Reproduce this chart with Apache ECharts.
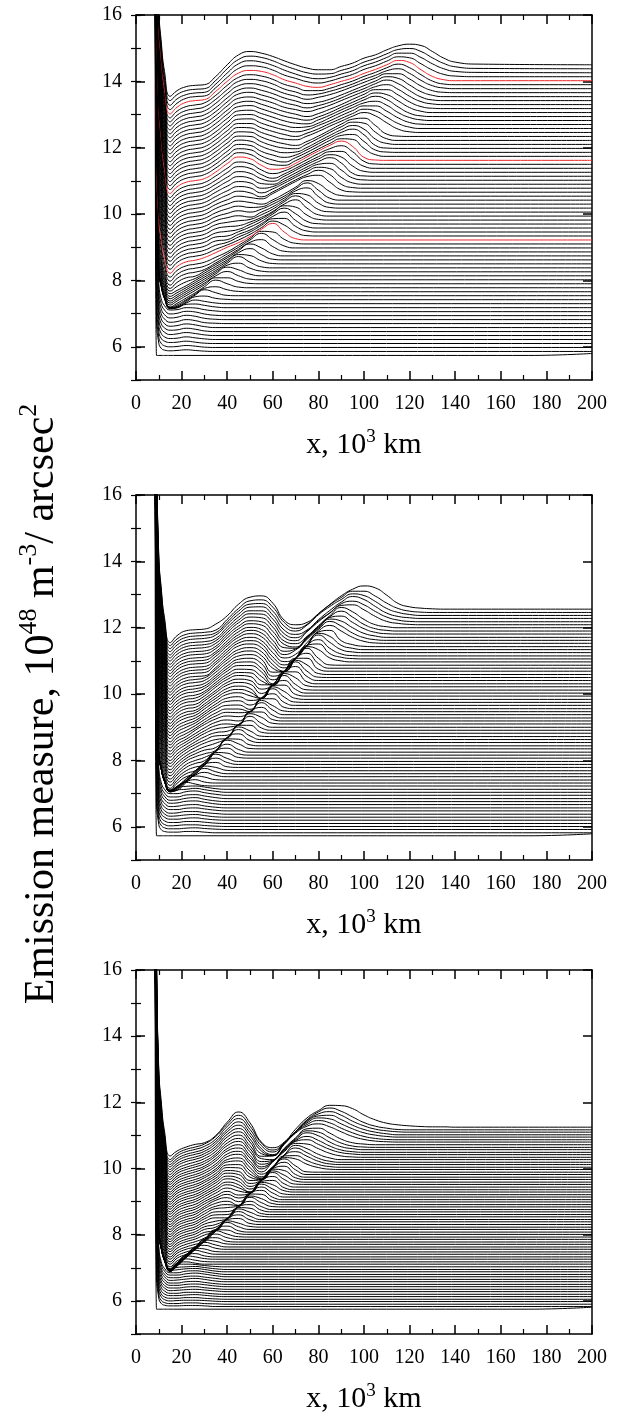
<!DOCTYPE html>
<html lang="en">
<head>
<meta charset="utf-8">
<title>Emission measure profiles</title>
<script src="https://cdn.jsdelivr.net/npm/echarts@6/dist/echarts.min.js"></script>
<style>
  html, body { margin: 0; padding: 0; background: #fff; }
  #chart { width: 619px; height: 1415px; }
</style>
</head>
<body>
<div id="chart"></div>
<script>
// x positions (10^3 km) where every curve is sampled
var xGrid = [9, 10, 11, 12.5, 15, 18, 22, 26, 30, 35, 40, 45, 50, 55, 60, 65, 70, 75, 80, 85, 90, 95, 100, 105, 110, 115, 120, 125, 130, 135, 140, 150];
// all curves start off-scale at the footpoint
var footX = 8.3, footY = 24;
var yTickLabels = [6, 8, 10, 12, 14, 16];
// the lowest curve of each panel turns up slightly near the right end
var bottomRiseX = 172;
var bottomEnd = [5.80, 5.79, 5.81];

// ---- panel 1: undisturbed level of each stacked curve, and deviation from it (0.01 units)
var levels1 = [5.74, 5.86, 5.98, 6.10, 6.22, 6.34, 6.46, 6.58, 6.70, 6.82, 6.94, 7.06, 7.18, 7.30, 7.42, 7.54, 7.66, 7.78, 7.90, 8.02,
  8.14, 8.26, 8.38, 8.50, 8.62, 8.74, 8.86, 8.98, 9.10, 9.22, 9.34, 9.46, 9.58, 9.70, 9.82, 9.94, 10.06, 10.18, 10.30, 10.42,
  10.54, 10.66, 10.78, 10.90, 11.02, 11.14, 11.26, 11.38, 11.50, 11.62, 11.74, 11.86, 11.98, 12.10, 12.22, 12.34, 12.46, 12.58, 12.70, 12.82,
  12.94, 13.06, 13.18, 13.30, 13.42, 13.54, 13.66, 13.78, 13.90, 14.02, 14.14, 14.26, 14.38, 14.50];
var red1 = [29, 49, 69];
var dev1 = [
  [0, 0, 0, 0, 0],
  [100, 25, 10, 4, 2, 3, 5, 3, 1],
  [112, 31, 13, 5, 2, 3, 6, 4, 1],
  [124, 37, 16, 7, 3, 4, 7, 4, 1],
  [136, 43, 19, 8, 3, 4, 8, 5, 2],
  [148, 49, 22, 10, 3, 5, 9, 6, 2],
  [160, 55, 25, 11, 4, 5, 10, 7, 2],
  [172, 61, 28, 12, 4, 6, 11, 8, 3],
  [184, 67, 31, 14, 4, 6, 12, 9, 3, 1],
  [196, 73, 34, 15, 5, 7, 13, 10, 4, 1],
  [208, 79, 37, 17, 5, 7, 13, 11, 5, 1],
  [220, 85, 40, 18, 5, 6, 12, 11, 6, 2],
  [237, 101, 65, 27, -3, -1, 10, 11, 7, 2],
  [226, 90, 54, 16, -14, -11, 2, 11, 7, 2],
  [217, 80, 44, 5, -25, -22, -7, 9, 11, 4, 1],
  [210, 71, 34, -5, -36, -32, -15, 2, 18, 9, 1],
  [199, 60, 23, -16, -47, -40, -24, -7, 10, 15, 6, 1],
  [188, 49, 12, -27, -58, -47, -31, -15, 3, 23, 12, 2],
  [188, 45, 7, -32, -64, -52, -36, -20, -3, 18, 18, 7, 1],
  [188, 42, 3, -38, -70, -58, -42, -26, -10, 12, 25, 12, 2],
  [194, 41, 1, -42, -76, -64, -48, -32, -16, 6, 26, 18, 5],
  [195, 39, -3, -46, -81, -70, -54, -38, -22, -1, 20, 26, 11, 2],
  [196, 36, -6, -51, -86, -75, -60, -44, -28, -8, 14, 34, 17, 3],
  [204, 37, -7, -53, -90, -80, -66, -50, -34, -14, 7, 28, 25, 9, 1],
  [212, 39, -7, -56, -94, -80, -66, -56, -40, -20, 0, 22, 34, 16, 2],
  [214, 37, -10, -59, -98, -80, -66, -61, -46, -26, -6, 16, 36, 24, 6],
  [224, 40, -8, -60, -100, -80, -66, -61, -53, -33, -13, 8, 29, 37, 16, 2],
  [242, 48, -3, -57, -100, -80, -66, -61, -55, -38, -18, 2, 24, 44, 25, 6],
  [254, 53, 0, -56, -100, -80, -66, -61, -55, -40, -24, -4, 17, 38, 36, 14, 2],
  [266, 59, 4, -54, -100, -80, -66, -61, -53, -38, -22, -8, 10, 32, 50, 24, 4],
  [284, 66, 9, -52, -100, -80, -66, -61, -55, -40, -27, -12, 5, 25, 45, 33, 11, 1],
  [296, 72, 12, -50, -100, -80, -66, -61, -55, -40, -31, -15, 0, 20, 40, 41, 17, 3],
  [314, 79, 17, -48, -100, -80, -66, -61, -55, -39, -35, -19, -6, 13, 35, 48, 23, 4],
  [326, 85, 21, -47, -100, -80, -66, -61, -55, -39, -36, -23, -9, 8, 30, 48, 31, 8, 1],
  [338, 90, 24, -45, -100, -80, -66, -61, -55, -39, -34, -28, -13, 3, 23, 43, 39, 15, 2],
  [356, 98, 29, -43, -100, -80, -66, -61, -55, -38, -32, -29, -18, -4, 14, 36, 49, 24, 4],
  [368, 103, 33, -42, -100, -80, -66, -61, -55, -38, -31, -26, -22, -8, 9, 31, 49, 32, 8, 1],
  [386, 111, 38, -39, -100, -80, -66, -61, -55, -38, -29, -23, -27, -12, 4, 24, 44, 40, 15, 2],
  [398, 116, 41, -38, -100, -80, -66, -61, -55, -38, -28, -20, -24, -15, 0, 18, 40, 49, 23, 3],
  [410, 121, 45, -36, -100, -80, -66, -61, -55, -38, -26, -18, -22, -20, -5, 12, 34, 52, 30, 6],
  [428, 129, 50, -34, -100, -80, -66, -61, -55, -37, -24, -15, -19, -24, -11, 7, 27, 47, 38, 14, 2],
  [440, 134, 53, -33, -100, -80, -66, -61, -55, -37, -23, -12, -16, -20, -4, 14, 32, 47, 51, 30, 7, 1],
  [458, 142, 58, -30, -100, -80, -66, -61, -55, -37, -21, -9, -14, -26, -11, 7, 25, 41, 54, 41, 12, 2],
  [470, 147, 62, -29, -100, -80, -66, -61, -55, -37, -20, -7, -11, -26, -14, 3, 21, 38, 51, 47, 21, 4],
  [482, 152, 65, -27, -100, -80, -66, -61, -55, -36, -18, -4, -8, -24, -19, -3, 15, 33, 48, 51, 31, 7, 1],
  [500, 160, 70, -25, -100, -80, -66, -61, -55, -36, -16, -1, -6, -22, -24, -8, 10, 28, 44, 56, 40, 9, 1],
  [500, 160, 70, -25, -100, -80, -66, -61, -55, -36, -15, 2, -3, -20, -27, -12, 6, 24, 40, 53, 46, 19, 3],
  [500, 160, 70, -25, -100, -80, -66, -61, -55, -36, -13, 5, 0, -19, -30, -17, 0, 18, 35, 50, 51, 28, 6],
  [500, 160, 70, -25, -100, -80, -66, -61, -55, -35, -12, 7, 2, -17, -28, -20, -4, 14, 32, 47, 56, 38, 9, 1],
  [500, 160, 70, -25, -100, -80, -66, -61, -55, -35, -10, 10, 5, -15, -27, -24, -9, 10, 28, 45, 58, 42, 9, 1],
  [500, 160, 70, -25, -100, -80, -66, -61, -55, -35, -10, 11, 6, -13, -25, -27, -13, 4, 22, 39, 53, 51, 24, 5],
  [500, 160, 70, -25, -100, -80, -66, -61, -55, -35, -9, 11, 8, -11, -23, -29, -16, 0, 18, 36, 51, 54, 33, 7, 1],
  [500, 160, 70, -25, -100, -80, -66, -61, -55, -35, -9, 12, 9, -9, -20, -27, -20, -4, 14, 32, 48, 58, 41, 9, 1],
  [500, 160, 70, -25, -100, -80, -66, -61, -55, -34, -8, 13, 10, -6, -18, -25, -23, -9, 9, 27, 44, 57, 46, 16, 3],
  [500, 160, 70, -25, -100, -80, -66, -61, -55, -34, -8, 13, 12, -4, -16, -23, -25, -11, 6, 24, 41, 55, 52, 25, 5],
  [500, 160, 70, -25, -100, -80, -66, -61, -55, -34, -8, 14, 13, -2, -14, -22, -27, -15, 1, 19, 37, 52, 55, 33, 7, 1],
  [500, 160, 70, -25, -100, -80, -66, -61, -55, -34, -7, 15, 14, 0, -11, -20, -22, -11, 3, 19, 34, 49, 60, 50, 29, 10, 2],
  [500, 160, 70, -25, -100, -80, -66, -61, -55, -34, -7, 15, 15, 2, -9, -18, -24, -14, -1, 15, 30, 45, 58, 53, 34, 15, 4],
  [500, 160, 70, -25, -100, -80, -66, -61, -55, -34, -6, 16, 17, 4, -7, -16, -22, -16, -3, 11, 27, 42, 56, 56, 40, 20, 6, 1],
  [500, 160, 70, -25, -100, -80, -66, -61, -55, -34, -6, 17, 18, 7, -5, -15, -21, -19, -8, 8, 24, 39, 53, 58, 46, 24, 9, 2],
  [500, 160, 70, -25, -100, -80, -66, -61, -55, -33, -6, 17, 19, 9, -2, -13, -20, -22, -10, 4, 20, 35, 50, 61, 51, 29, 10, 2],
  [500, 160, 70, -25, -100, -80, -66, -61, -55, -33, -5, 18, 21, 11, 0, -11, -18, -23, -13, 0, 16, 31, 46, 59, 54, 35, 15, 4],
  [500, 160, 70, -25, -100, -80, -66, -61, -55, -33, -5, 18, 22, 13, 2, -9, -17, -24, -15, -2, 12, 28, 43, 57, 57, 41, 20, 6, 1],
  [500, 160, 70, -25, -100, -80, -66, -61, -55, -33, -4, 19, 23, 15, 5, -8, -15, -21, -13, -2, 12, 26, 40, 54, 60, 46, 25, 9, 2],
  [500, 160, 70, -25, -100, -80, -66, -61, -55, -33, -4, 20, 25, 17, 7, -6, -14, -22, -15, -5, 8, 23, 36, 51, 62, 51, 30, 11, 2],
  [500, 160, 70, -25, -100, -80, -66, -61, -55, -33, -4, 20, 26, 19, 9, -4, -13, -21, -17, -8, 5, 19, 33, 47, 60, 55, 35, 15, 4],
  [500, 160, 70, -25, -100, -80, -66, -61, -55, -32, -3, 21, 27, 22, 11, -2, -11, -20, -14, -6, 5, 18, 31, 44, 57, 57, 41, 20, 6, 1],
  [500, 160, 70, -25, -100, -80, -66, -61, -55, -32, -3, 22, 28, 24, 14, -1, -10, -19, -16, -8, 2, 14, 28, 40, 54, 60, 46, 25, 9, 2],
  [500, 160, 70, -25, -100, -80, -66, -61, -55, -32, -2, 22, 30, 26, 16, 1, -8, -18, -18, -11, 0, 11, 25, 37, 51, 62, 51, 30, 11, 2],
  [500, 160, 70, -25, -100, -80, -65, -60, -57, -32, -2, 23, 31, 28, 18, 3, -7, -17, -20, -12, -2, 8, 22, 34, 48, 61, 55, 33, 13, 3],
  [501, 161, 71, -24, -99, -80, -65, -60, -58, -33, -2, 25, 33, 30, 20, 5, -5, -15, -19, -13, -3, 7, 22, 33, 47, 60, 57, 39, 20, 7, 2],
  [502, 162, 72, -23, -98, -79, -66, -61, -59, -34, -1, 27, 36, 32, 22, 8, -4, -14, -18, -14, -4, 6, 21, 32, 46, 59, 59, 46, 27, 12, 4, 1],
  [504, 164, 74, -21, -96, -78, -66, -62, -60, -35, 0, 28, 38, 34, 24, 10, -2, -12, -16, -15, -5, 5, 20, 31, 45, 58, 61, 52, 33, 16, 6, 1],
  [505, 165, 75, -20, -95, -78, -66, -62, -60, -35, 0, 30, 40, 35, 25, 12, 0, -10, -15, -15, -5, 5, 20, 30, 45, 57, 62, 58, 40, 20, 8, 2]
];

// ---- panel 2
var levels2 = [5.73, 5.82, 5.92, 6.01, 6.10, 6.20, 6.29, 6.38, 6.48, 6.57, 6.67, 6.76, 6.85, 6.95, 7.04, 7.13, 7.23, 7.32, 7.41, 7.51,
  7.60, 7.69, 7.79, 7.88, 7.97, 8.07, 8.16, 8.25, 8.35, 8.44, 8.54, 8.63, 8.72, 8.82, 8.91, 9.00, 9.10, 9.19, 9.28, 9.38,
  9.47, 9.56, 9.66, 9.75, 9.84, 9.94, 10.03, 10.12, 10.22, 10.31, 10.41, 10.50, 10.59, 10.69, 10.78, 10.87, 10.97, 11.06, 11.15, 11.25,
  11.34, 11.43, 11.53, 11.62, 11.71, 11.81, 11.90, 12.00, 12.09, 12.18, 12.28, 12.37, 12.46, 12.56];
var dev2 = [
  [0, 0, 0, 0, 0],
  [100, 25, 10, 4, 2, 2, 4, 4, 2],
  [110, 30, 13, 5, 2, 2, 4, 5, 3, 1],
  [120, 35, 15, 6, 2, 3, 5, 5, 3, 1],
  [130, 40, 18, 8, 3, 3, 6, 6, 4, 1],
  [140, 45, 20, 9, 3, 3, 6, 7, 4, 1],
  [150, 50, 23, 10, 3, 4, 7, 8, 5, 1],
  [160, 55, 25, 11, 3, 4, 8, 8, 5, 2],
  [170, 60, 28, 12, 4, 4, 8, 9, 6, 2],
  [180, 65, 30, 14, 4, 5, 9, 10, 6, 2],
  [190, 70, 33, 15, 4, 5, 10, 11, 7, 2],
  [200, 75, 35, 16, 4, 5, 10, 12, 7, 2],
  [210, 80, 38, 17, 5, 5, 11, 12, 8, 3],
  [220, 85, 40, 18, 5, 5, 11, 13, 8, 3],
  [247, 108, 71, 32, 1, 7, 9, 12, 8, 3],
  [239, 100, 63, 24, -7, 5, 9, 10, 7, 2],
  [230, 91, 54, 15, -16, -4, 11, 6, 1],
  [220, 81, 44, 5, -26, -12, 4, 10, 3],
  [212, 73, 36, -3, -34, -21, -4, 12, 9, 1],
  [211, 68, 30, -9, -41, -29, -12, 5, 13, 4],
  [192, 53, 16, -23, -54, -50, -26, -1, 16, 6],
  [184, 45, 8, -31, -62, -56, -32, -8, 14, 10, 1],
  [181, 38, 0, -39, -71, -63, -40, -15, 10, 15, 2],
  [173, 30, -8, -47, -79, -69, -45, -21, 4, 19, 6],
  [165, 22, -16, -55, -87, -75, -52, -28, -4, 22, 9],
  [156, 13, -25, -64, -96, -76, -56, -48, -19, 17, 15, 2],
  [158, 12, -27, -68, -100, -77, -56, -47, -31, 12, 21, 4],
  [170, 17, -24, -66, -100, -78, -56, -45, -38, 2, 24, 8],
  [182, 22, -20, -65, -100, -79, -56, -44, -36, -7, 26, 15, 1],
  [194, 27, -17, -63, -100, -80, -56, -44, -35, -16, 21, 20, 3],
  [206, 33, -13, -62, -100, -80, -56, -43, -34, -23, 16, 26, 6],
  [218, 38, -10, -60, -100, -80, -57, -43, -32, -24, 5, 30, 11],
  [224, 40, -8, -59, -100, -80, -58, -43, -31, -20, -4, 29, 17, 1],
  [236, 46, -5, -58, -100, -80, -59, -43, -30, -19, -15, 24, 24, 3],
  [248, 51, -1, -56, -100, -80, -59, -43, -30, -17, -15, 17, 29, 7],
  [260, 56, 2, -55, -100, -80, -61, -44, -29, -16, -12, 7, 33, 12],
  [272, 61, 5, -53, -100, -80, -62, -45, -29, -15, -10, -2, 31, 20, 2],
  [284, 66, 9, -52, -100, -80, -63, -46, -30, -14, -9, -12, 27, 27, 4],
  [296, 72, 12, -50, -100, -80, -64, -47, -30, -13, -6, -9, 20, 32, 8],
  [308, 77, 16, -49, -100, -80, -66, -47, -30, -13, -4, -6, 9, 36, 14],
  [314, 79, 17, -48, -100, -80, -66, -50, -32, -13, -2, -3, 0, 34, 18, 2],
  [326, 85, 21, -47, -100, -80, -66, -51, -33, -13, -1, -1, -9, 30, 30, 4],
  [338, 90, 24, -45, -100, -80, -66, -53, -34, -13, 0, 1, -12, 22, 35, 9],
  [350, 95, 28, -44, -100, -80, -66, -55, -36, -13, 3, 5, -8, 13, 41, 16, 1],
  [362, 100, 31, -42, -100, -80, -66, -56, -38, -14, 4, 8, -3, 3, 38, 24, 3],
  [374, 105, 34, -41, -100, -80, -66, -58, -39, -15, 5, 10, 1, -7, 32, 33, 5],
  [386, 111, 38, -39, -100, -80, -66, -59, -40, -16, 5, 11, 3, -16, 24, 38, 11],
  [392, 113, 39, -38, -100, -80, -66, -61, -42, -17, 5, 12, 5, -25, 15, 44, 17, 1],
  [404, 118, 43, -37, -100, -80, -66, -62, -43, -18, 5, 13, 8, -20, 5, 40, 27, 3],
  [416, 124, 46, -36, -100, -80, -66, -62, -45, -20, 4, 14, 10, -16, -3, 36, 36, 6],
  [428, 129, 50, -34, -100, -80, -66, -62, -47, -20, 3, 15, 12, -13, -13, 27, 42, 12],
  [440, 134, 53, -33, -100, -80, -66, -62, -48, -22, 2, 15, 14, -10, -23, 17, 47, 19, 1],
  [452, 139, 56, -31, -100, -80, -66, -62, -51, -24, 1, 16, 15, -6, -32, 8, 43, 29, 3],
  [464, 144, 60, -30, -100, -80, -66, -62, -52, -26, 0, 17, 17, -2, -38, -1, 39, 39, 6],
  [476, 150, 63, -28, -100, -80, -66, -62, -54, -28, -1, 18, 19, 0, -35, -11, 30, 45, 14],
  [482, 152, 65, -27, -100, -80, -66, -62, -55, -30, -2, 18, 21, 5, -33, -20, 20, 51, 21, 1],
  [494, 157, 68, -26, -100, -80, -66, -62, -56, -31, -3, 18, 22, 8, -31, -29, 11, 46, 37, 12, 3],
  [500, 160, 70, -25, -100, -80, -66, -62, -57, -32, -3, 19, 24, 10, -28, -38, 1, 41, 45, 16, 5, 1],
  [500, 160, 70, -25, -100, -80, -66, -62, -60, -35, -4, 19, 25, 13, -26, -46, -8, 32, 49, 23, 6, 1],
  [500, 160, 70, -25, -100, -80, -66, -62, -60, -35, -5, 20, 26, 15, -24, -46, -18, 22, 53, 31, 9, 2],
  [500, 160, 70, -25, -100, -80, -66, -62, -60, -37, -6, 20, 27, 17, -22, -46, -26, 13, 49, 40, 13, 4],
  [500, 160, 70, -25, -100, -80, -66, -62, -60, -38, -7, 19, 28, 18, -18, -45, -35, 4, 44, 49, 18, 6, 1],
  [500, 160, 70, -25, -100, -80, -66, -62, -60, -39, -8, 18, 29, 20, -15, -44, -33, 2, 37, 54, 37, 18, 6, 1],
  [500, 160, 70, -25, -100, -80, -66, -62, -60, -40, -10, 17, 30, 22, -12, -43, -29, 3, 33, 57, 43, 22, 8, 2],
  [500, 160, 70, -25, -100, -80, -66, -62, -60, -43, -11, 17, 30, 24, -9, -42, -35, -3, 27, 55, 49, 29, 12, 4],
  [500, 160, 70, -25, -100, -80, -66, -62, -60, -44, -12, 16, 31, 27, -5, -41, -43, -11, 20, 50, 54, 35, 16, 5, 1],
  [500, 160, 70, -25, -100, -80, -66, -62, -60, -46, -13, 15, 31, 28, -1, -40, -48, -18, 13, 43, 60, 42, 20, 7, 2],
  [500, 160, 70, -25, -100, -80, -66, -62, -60, -47, -15, 15, 32, 30, 2, -40, -48, -26, 6, 36, 61, 48, 25, 9, 3],
  [500, 160, 70, -25, -100, -80, -66, -62, -60, -48, -16, 14, 33, 32, 5, -38, -48, -21, 9, 35, 58, 60, 45, 25, 10, 4, 1],
  [500, 160, 70, -25, -100, -80, -66, -62, -60, -50, -17, 14, 33, 33, 8, -36, -48, -28, 3, 27, 54, 62, 51, 31, 14, 5, 1],
  [500, 160, 70, -25, -100, -80, -66, -62, -60, -50, -18, 13, 34, 35, 10, -35, -48, -35, -4, 24, 49, 66, 57, 36, 16, 6, 2],
  [500, 160, 70, -25, -100, -80, -66, -62, -60, -52, -20, 13, 34, 36, 13, -32, -47, -29, 2, 27, 48, 65, 60, 42, 21, 9, 3],
  [500, 160, 70, -25, -100, -80, -66, -62, -60, -53, -21, 12, 35, 38, 16, -30, -48, -36, -4, 23, 45, 64, 64, 49, 28, 12, 4, 1],
  [499, 159, 69, -26, -101, -80, -65, -62, -60, -45, -20, 15, 36, 40, 18, -33, -47, -40, -14, 14, 40, 60, 70, 64, 42, 17, 7, 3, 1]
];

// ---- panel 3
var levels3 = [5.75, 5.83, 5.90, 5.98, 6.05, 6.13, 6.20, 6.28, 6.35, 6.43, 6.50, 6.58, 6.65, 6.73, 6.80, 6.88, 6.95, 7.03, 7.11, 7.18,
  7.26, 7.33, 7.41, 7.48, 7.56, 7.63, 7.71, 7.78, 7.86, 7.93, 8.01, 8.08, 8.16, 8.23, 8.31, 8.39, 8.46, 8.54, 8.61, 8.69,
  8.76, 8.84, 8.91, 8.99, 9.06, 9.14, 9.21, 9.29, 9.36, 9.44, 9.52, 9.59, 9.67, 9.74, 9.82, 9.89, 9.97, 10.04, 10.12, 10.19,
  10.27, 10.34, 10.42, 10.49, 10.57, 10.64, 10.72, 10.80, 10.87, 10.95, 11.02, 11.10, 11.17, 11.25];
var dev3 = [
  [0, 0, 0, 0, 0],
  [100, 25, 10, 4, 2, 2, 3, 3, 2],
  [109, 30, 12, 5, 2, 2, 4, 4, 2, 1],
  [118, 34, 15, 6, 2, 3, 4, 4, 3, 1],
  [127, 39, 17, 7, 3, 3, 5, 5, 3, 1],
  [136, 43, 19, 8, 3, 3, 5, 6, 4, 1],
  [145, 48, 22, 10, 3, 3, 6, 6, 4, 1],
  [154, 52, 24, 11, 3, 4, 6, 7, 5, 2],
  [163, 57, 26, 12, 4, 4, 7, 8, 5, 2],
  [172, 61, 28, 13, 4, 4, 7, 8, 6, 2],
  [181, 66, 31, 14, 4, 4, 8, 9, 6, 2],
  [190, 70, 33, 15, 4, 5, 8, 10, 7, 2],
  [199, 75, 35, 16, 5, 5, 9, 10, 7, 3],
  [208, 79, 38, 17, 5, 5, 9, 11, 8, 3],
  [217, 84, 40, 18, 5, 5, 10, 11, 8, 3],
  [256, 113, 75, 36, 4, 6, 9, 10, 7, 2],
  [258, 112, 73, 32, 0, 6, 8, 9, 6, 2],
  [252, 106, 67, 26, -6, 8, 8, 7, 4, 1],
  [242, 96, 57, 16, -16, 3, 7, 3],
  [234, 88, 49, 8, -24, -3, 9, 5, 1],
  [225, 79, 40, -1, -33, -12, 10, 7, 2],
  [211, 68, 30, -9, -41, -20, 6, 10, 3],
  [202, 59, 21, -18, -50, -30, -1, 12, 6],
  [193, 50, 12, -27, -59, -39, -10, 11, 9, 1],
  [185, 42, 4, -35, -67, -48, -20, 7, 12, 3],
  [179, 36, -2, -41, -73, -56, -29, 0, 14, 6],
  [172, 29, -9, -48, -80, -65, -39, -10, 13, 9, 1],
  [166, 23, -15, -54, -86, -73, -46, -19, 9, 13, 2],
  [168, 22, -17, -58, -90, -72, -55, -28, 0, 16, 5],
  [180, 27, -14, -56, -90, -72, -60, -37, -9, 19, 9, 1],
  [186, 30, -12, -55, -90, -72, -60, -46, -18, 14, 13, 2],
  [198, 35, -8, -54, -90, -72, -60, -52, -27, 8, 18, 4],
  [204, 37, -7, -53, -90, -72, -60, -52, -36, -1, 21, 8],
  [216, 43, -3, -52, -90, -72, -60, -52, -45, -11, 19, 12, 2],
  [222, 45, -2, -51, -90, -72, -60, -52, -41, -20, 15, 18, 3],
  [234, 50, 2, -50, -90, -72, -60, -52, -40, -28, 8, 21, 6],
  [240, 53, 4, -49, -90, -72, -60, -52, -39, -34, 2, 24, 10],
  [252, 58, 7, -47, -90, -72, -60, -52, -38, -31, -5, 24, 14, 2],
  [258, 61, 9, -46, -90, -72, -60, -52, -37, -30, -12, 21, 19, 3],
  [270, 66, 12, -45, -90, -72, -60, -52, -37, -28, -20, 16, 22, 5],
  [276, 69, 14, -44, -90, -72, -60, -52, -36, -25, -25, 9, 25, 9],
  [288, 74, 17, -43, -90, -72, -60, -52, -36, -24, -23, 2, 29, 13, 1],
  [294, 76, 19, -42, -90, -72, -60, -52, -36, -22, -21, -5, 26, 18, 3],
  [306, 82, 22, -40, -90, -72, -60, -52, -36, -20, -17, -11, 24, 23, 4],
  [312, 84, 24, -40, -90, -72, -60, -52, -35, -20, -15, -18, 18, 28, 7],
  [324, 89, 27, -38, -90, -72, -60, -52, -35, -19, -13, -25, 10, 30, 12],
  [330, 92, 29, -37, -90, -72, -60, -52, -36, -17, -9, -21, 3, 32, 17, 2],
  [342, 97, 32, -36, -90, -72, -60, -52, -36, -19, -7, -18, -4, 29, 22, 4],
  [348, 100, 34, -35, -90, -72, -60, -52, -36, -19, -5, -16, -11, 25, 28, 6],
  [360, 105, 38, -34, -90, -72, -60, -52, -37, -18, -3, -12, -17, 19, 32, 10],
  [366, 108, 39, -33, -90, -72, -60, -52, -37, -18, -1, -10, -23, 12, 36, 15, 1],
  [378, 113, 43, -32, -90, -72, -60, -52, -37, -18, 0, -8, -30, 4, 34, 21, 3],
  [384, 115, 44, -31, -90, -72, -60, -52, -38, -18, 2, -6, -29, -3, 31, 27, 5],
  [396, 121, 48, -29, -90, -72, -60, -52, -38, -17, 3, -3, -28, -9, 26, 33, 8],
  [402, 123, 49, -28, -90, -72, -60, -52, -39, -18, 4, 0, -27, -16, 20, 37, 14],
  [414, 128, 53, -27, -90, -72, -60, -52, -39, -18, 5, 2, -25, -23, 12, 40, 19, 1],
  [420, 131, 55, -26, -90, -72, -60, -52, -39, -19, 6, 5, -23, -30, 5, 36, 32, 16, 6, 1],
  [432, 136, 58, -25, -90, -72, -60, -52, -40, -19, 7, 8, -21, -35, -2, 34, 35, 20, 8, 2],
  [438, 139, 60, -24, -90, -72, -60, -52, -40, -19, 8, 11, -19, -41, -8, 28, 39, 25, 10, 2],
  [450, 144, 63, -23, -90, -72, -60, -52, -41, -20, 8, 13, -16, -44, -15, 21, 43, 29, 12, 3],
  [456, 147, 65, -22, -90, -72, -60, -52, -41, -20, 9, 16, -13, -44, -21, 14, 43, 33, 16, 5],
  [468, 152, 68, -20, -90, -72, -60, -52, -41, -20, 10, 18, -12, -44, -14, 17, 42, 40, 26, 12, 4, 1],
  [474, 154, 70, -19, -90, -72, -60, -52, -41, -19, 11, 20, -10, -43, -20, 13, 40, 45, 31, 16, 6, 2],
  [486, 160, 73, -18, -90, -72, -60, -52, -42, -19, 11, 23, -9, -44, -27, 6, 35, 48, 36, 19, 7, 2],
  [492, 162, 75, -17, -90, -72, -60, -52, -42, -19, 12, 25, -6, -44, -33, 1, 30, 51, 42, 23, 9, 3],
  [504, 167, 78, -16, -90, -72, -60, -52, -42, -20, 13, 27, -4, -43, -39, -5, 26, 50, 46, 29, 13, 4, 1],
  [510, 170, 80, -15, -90, -72, -60, -52, -42, -20, 14, 29, -3, -42, -45, -11, 21, 48, 50, 35, 17, 6, 2],
  [510, 170, 80, -15, -90, -72, -59, -52, -42, -20, 15, 31, 0, -43, -42, -7, 27, 48, 55, 46, 31, 17, 8, 3, 1],
  [510, 170, 80, -15, -90, -72, -59, -52, -42, -20, 16, 34, 2, -42, -48, -13, 22, 46, 58, 51, 35, 21, 10, 4, 1],
  [510, 170, 80, -15, -90, -72, -59, -52, -43, -20, 16, 36, 4, -42, -55, -20, 16, 43, 58, 55, 40, 25, 13, 6, 2],
  [510, 170, 80, -15, -90, -72, -59, -52, -43, -20, 16, 39, 6, -42, -60, -26, 9, 40, 57, 59, 46, 29, 16, 8, 3],
  [510, 170, 80, -15, -90, -72, -59, -52, -43, -21, 17, 41, 8, -41, -60, -33, 2, 35, 55, 62, 51, 33, 19, 9, 4, 1],
  [510, 170, 80, -15, -90, -72, -59, -52, -43, -20, 17, 44, 11, -40, -61, -40, -5, 30, 54, 66, 56, 39, 22, 11, 5, 1],
  [513, 173, 83, -12, -87, -72, -60, -52, -47, -25, 15, 46, 13, -45, -62, -45, -6, 28, 50, 66, 65, 56, 37, 22, 12, 7, 4, 2, 1, 1]
];

var grids = [
  { left: 136, top: 15, width: 456, height: 365 },
  { left: 136, top: 495, width: 456, height: 365 },
  { left: 136, top: 970, width: 456, height: 365 }
];

var serif = 'Liberation Serif, Times New Roman, serif';
var axisLineStyle = { color: '#000', width: 1.5 };

var xAxes = [], yAxes = [];
grids.forEach(function (g, i) {
  xAxes.push({
    gridIndex: i, type: 'value', min: 0, max: 200, interval: 20, position: 'bottom',
    axisLine: { onZero: false, lineStyle: axisLineStyle },
    axisTick: { inside: true, length: 9, lineStyle: axisLineStyle },
    minorTick: { show: true, splitNumber: 2, length: 5, lineStyle: { color: '#000', width: 1.2 } },
    splitLine: { show: false },
    axisLabel: { fontFamily: serif, fontSize: 20, color: '#000', margin: 14 },
    name: '{n|x, 10}{s|3}{n| km}', nameLocation: 'middle', nameGap: 48,
    nameTextStyle: {
      rich: {
        n: { fontFamily: serif, fontSize: 30, color: '#000', lineHeight: 34 },
        s: { fontFamily: serif, fontSize: 19, color: '#000', verticalAlign: 'top', lineHeight: 19 }
      }
    }
  });
  xAxes.push({
    gridIndex: i, type: 'value', min: 0, max: 200, interval: 20, position: 'top',
    axisLine: { onZero: false, lineStyle: axisLineStyle },
    axisTick: { inside: true, length: 9, lineStyle: axisLineStyle },
    minorTick: { show: true, splitNumber: 2, length: 5, lineStyle: { color: '#000', width: 1.2 } },
    splitLine: { show: false }, axisLabel: { show: false }
  });
  // left: labelled major ticks, then minor ticks; right: the same without labels
  ['left', 'right'].forEach(function (side) {
    yAxes.push({
      gridIndex: i, type: 'value', min: 5, max: 16, position: side,
      axisLine: { onZero: false, lineStyle: axisLineStyle },
      axisTick: { inside: true, length: 9, lineStyle: axisLineStyle, customValues: yTickLabels },
      splitLine: { show: false },
      axisLabel: side === 'left'
        ? { customValues: yTickLabels, fontFamily: serif, fontSize: 20, color: '#000', margin: 14 }
        : { show: false }
    });
    yAxes.push({
      gridIndex: i, type: 'value', min: 5, max: 16, interval: 1, position: side,
      axisLine: { show: false },
      axisTick: { inside: true, length: 5, lineStyle: { color: '#000', width: 1.2 } },
      splitLine: { show: false }, axisLabel: { show: false }
    });
  });
});

function buildSeries(levels, devs, panel, redList) {
  return levels.map(function (p, k) {
    var row = devs[k];
    var pts = [[footX, footY]];
    for (var i = 0; i < row.length; i++) {
      pts.push([xGrid[i], +(p + row[i] / 100).toFixed(3)]);
    }
    if (row.length < xGrid.length) pts.push([xGrid[row.length], p]);
    if (k === 0) {
      pts.push([bottomRiseX, p]);
      pts.push([200, bottomEnd[panel]]);
    } else {
      pts.push([200, p]);
    }
    var isRed = redList.indexOf(k) >= 0;
    return {
      type: 'line', xAxisIndex: panel * 2, yAxisIndex: panel * 4,
      data: pts, showSymbol: false, symbol: 'none', silent: true,
      smooth: 0.5,
      lineStyle: { color: isRed ? '#e8262a' : '#000', width: 1 },
      z: 2
    };
  });
}

var series = [].concat(
  buildSeries(levels1, dev1, 0, red1),
  buildSeries(levels2, dev2, 1, []),
  buildSeries(levels3, dev3, 2, [])
);

var chart = echarts.init(document.getElementById('chart'), null, { renderer: 'canvas' });
chart.setOption({
  animation: false,
  backgroundColor: '#fff',
  grid: grids,
  xAxis: xAxes,
  yAxis: yAxes,
  series: series,
  graphic: [{
    type: 'text', x: 42, y: 704, rotation: Math.PI / 2,
    style: {
      text: '{n|Emission measure, 10}{s|48}{n| m}{s|-3}{n|/ arcsec}{s|2}',
      textAlign: 'center', textVerticalAlign: 'middle',
      rich: {
        n: { fontFamily: serif, fontSize: 42, fill: '#000', lineHeight: 52 },
        s: { fontFamily: serif, fontSize: 26, fill: '#000', verticalAlign: 'top', lineHeight: 26 }
      }
    }
  }]
});
</script>
</body>
</html>
